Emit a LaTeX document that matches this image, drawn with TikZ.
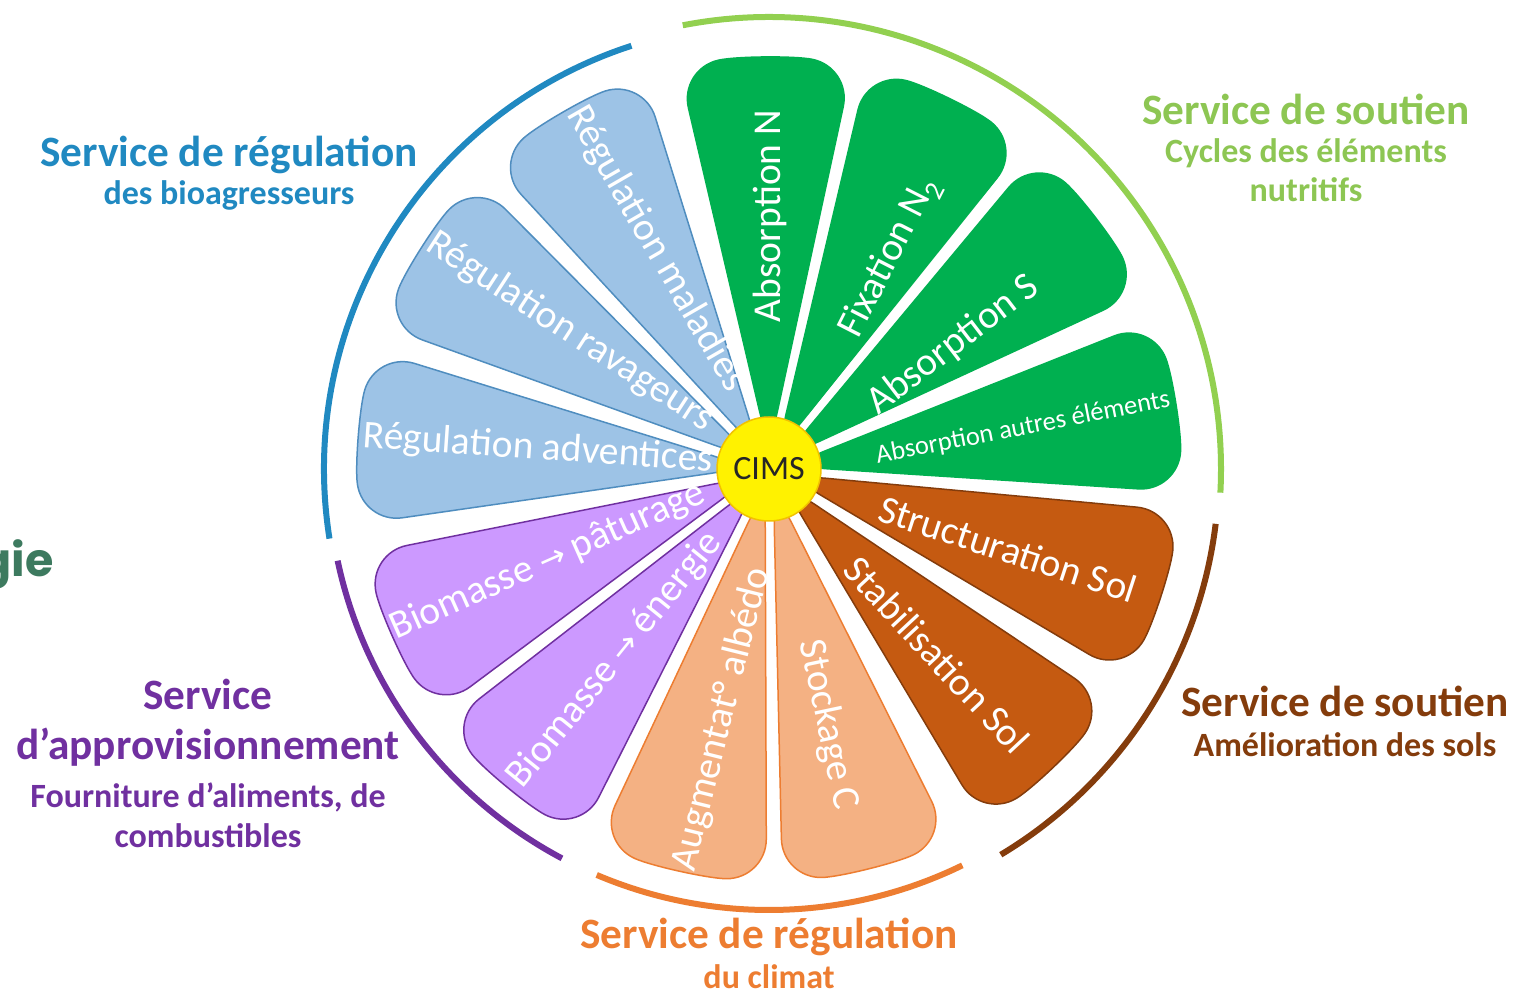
\documentclass[tikz,border=0pt]{standalone}
\usepackage{fontspec}
\setmainfont{Carlito}
\newfontfamily\giefont{Poppins}
\newfontfamily\djv{DejaVu Sans}
\definecolor{pblue}{HTML}{9DC3E6}
\definecolor{pbluedk}{HTML}{4F8DBF}
\definecolor{pgreen}{HTML}{00B050}
\definecolor{pbrown}{HTML}{C55A11}
\definecolor{pbrowndk}{HTML}{843C0C}
\definecolor{porange}{HTML}{F4B183}
\definecolor{porangedk}{HTML}{ED7D31}
\definecolor{ppurple}{HTML}{CC99FF}
\definecolor{ppurpledk}{HTML}{7030A0}
\definecolor{cblue}{HTML}{2089C1}
\definecolor{cgreen}{HTML}{92D050}
\definecolor{cgreentxt}{HTML}{8DC653}
\definecolor{cbrown}{HTML}{843C0C}
\definecolor{corange}{HTML}{ED7D31}
\definecolor{cpurple}{HTML}{7030A0}
\definecolor{gietxt}{HTML}{3D7A5F}
\definecolor{cimsyel}{HTML}{FFF200}
\definecolor{cimsedge}{HTML}{F2C200}
\newcommand{\arr}{{\djv\fontsize{32}{32}\selectfont →}}
\begin{document}
\begin{tikzpicture}[x=1pt,y=1pt,
  petal/.style={line width=1.5pt, rounded corners=40pt},
  petaltext/.style={text=white, font=\fontsize{39.5}{39.5}\selectfont, inner sep=0pt},
  smalltext/.style={text=white, font=\fontsize{26.5}{26.5}\selectfont, inner sep=0pt},
  titletext/.style={font=\fontsize{43.3}{43.3}\bfseries\selectfont, inner sep=0pt, anchor=base},
  subtext/.style={font=\fontsize{34}{34}\bfseries\selectfont, inner sep=0pt, anchor=base},
  arcline/.style={line width=6pt}]
\useasboundingbox (0,0) rectangle (1537,994);
\fill[white] (0,0) rectangle (1537,994);
\coordinate (C) at (769,525);

% petals
\foreach \a/\fc/\dc in {90.5/pgreen/pgreen,64/pgreen/pgreen,37.5/pgreen/pgreen,9/pgreen/pgreen,-18/pbrown/pbrowndk,-46.5/pbrown/pbrowndk,-76/porange/porangedk,-102.5/porange/porangedk,-129.5/ppurple/ppurpledk,-156/ppurple/ppurpledk,175.5/pblue/pbluedk,147.5/pblue/pbluedk,120/pblue/pbluedk}{
  \filldraw[petal, fill=\fc, draw=\dc, shift={(C)}, rotate=\a] (0:18pt) -- (12.14:410pt) arc[start angle=12.14, end angle=-12.14, radius=410pt] -- cycle;
}

% centre
\node[circle, fill=cimsyel, draw=cimsedge, line width=1.5pt, minimum size=104pt, inner sep=0pt, font=\fontsize{34}{34}\selectfont, text=black!85] (cims) at (C) {CIMS};

% petal labels
\node[petaltext, rotate=90] (tAbsN) at (770,778) {Absorption N};
\node[petaltext, rotate=63] (tFix) at (890,736) {Fixation N\textsubscript{2}};
\node[petaltext, rotate=37.5] (tAbsS) at (953,649) {Absorption S};
\node[smalltext, rotate=11] (tAut) at (1023,566) {Absorption autres éléments};
\node[petaltext, rotate=-18] (tStruc) at (1008,445) {Structuration Sol};
\node[petaltext, rotate=-47] (tStab) at (937,339) {Stabilisation Sol};
\node[petaltext, rotate=-78] (tStock) at (828,269) {Stockage C};
\node[petaltext, rotate=76] (tAlb) at (722,275) {Augmentat° albédo};
\node[petaltext, rotate=51] (tEn) at (615,334) {Biomasse \arr{} énergie};
\node[petaltext, rotate=24] (tPat) at (548,433) {Biomasse \arr{} pâturage};
\node[petaltext, rotate=-4] (tAdv) at (538,545) {Régulation adventices};
\node[petaltext, rotate=-33] (tRav) at (570,662) {Régulation ravageurs};
\node[petaltext, rotate=-60] (tMal) at (656,745) {Régulation maladies};

% outer arcs
\draw[arcline, cblue] ([shift={(108:445pt)}]C) arc[start angle=108, end angle=189, radius=445pt];
\draw[arcline, cgreen] ([shift={(101:452pt)}]C) arc[start angle=101, end angle=-3, radius=452pt];
\draw[arcline, cbrown] ([shift={(-7:450pt)}]C) arc[start angle=-7, end angle=-59, radius=450pt];
\draw[arcline, corange] ([shift={(-113:441pt)}]C) arc[start angle=-113, end angle=-64, radius=441pt];
\draw[arcline, cpurple] ([shift={(192:441pt)}]C) arc[start angle=192, end angle=242, radius=441pt];

% category labels
\node[titletext, text=cblue] (lb1) at (229,827) {Service de régulation};
\node[subtext, text=cblue] (lb2) at (229,789) {des bioagresseurs};
\node[titletext, text=cgreentxt] (lg1) at (1306,869) {Service de soutien};
\node[subtext, text=cgreentxt] (lg2) at (1306,831) {Cycles des éléments};
\node[subtext, text=cgreentxt] (lg3) at (1306,792) {nutritifs};
\node[titletext, text=cbrown] (lr1) at (1345,277) {Service de soutien};
\node[subtext, text=cbrown] (lr2) at (1345,237) {Amélioration des sols};
\node[titletext, text=corange] (lo1) at (769,46) {Service de régulation};
\node[subtext, text=corange] (lo2) at (769,6) {du climat};
\node[titletext, text=cpurple] (lp1) at (208,284) {Service};
\node[titletext, text=cpurple] (lp2) at (208,234) {d’approvisionnement};
\node[subtext, text=cpurple] (lp3) at (208,186) {Fourniture d’aliments, de};
\node[subtext, text=cpurple] (lp4) at (208,147) {combustibles};

% cut-off text at left edge
\node[inner sep=0pt, anchor=base east, text=gietxt, font=\giefont\bfseries\fontsize{46}{46}\selectfont] (gie) at (54,417) {gie};
\end{tikzpicture}
\end{document}
